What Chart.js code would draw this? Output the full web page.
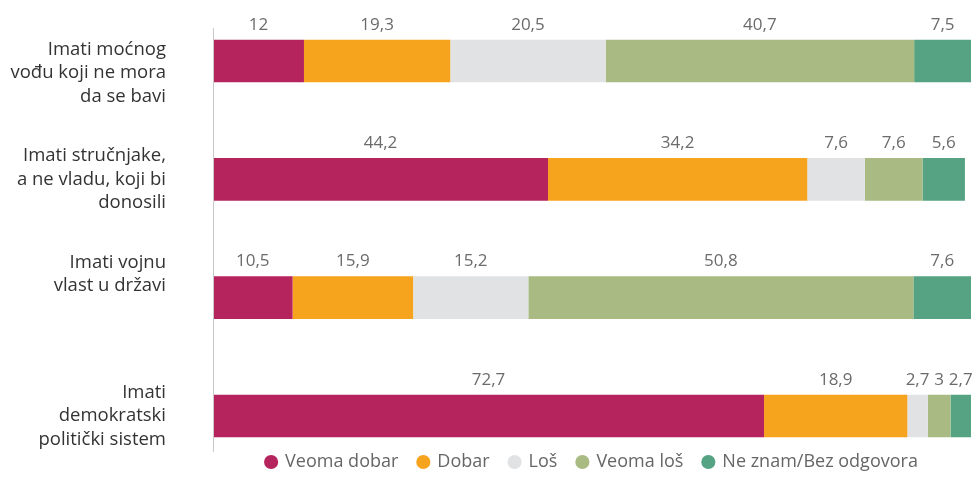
<!DOCTYPE html>
<html>
<head>
<meta charset="utf-8">
<script src="https://cdn.jsdelivr.net/npm/chart.js@4/dist/chart.umd.min.js"></script>
<style>
  html, body { margin: 0; padding: 0; background: #fff; }
  #wrap { width: 974px; height: 497px; }
</style>
</head>
<body>
<div id="wrap"><canvas id="chart"></canvas></div>
<script>
const categories = [
	['Imati moćnog', 'vođu koji ne mora', 'da se bavi'],
	['Imati stručnjake,', 'a ne vladu, koji bi', 'donosili'],
	['Imati vojnu', 'vlast u državi'],
	['Imati', 'demokratski', 'politički sistem']
];
const seriesNames = ['Veoma dobar', 'Dobar', 'Loš', 'Veoma loš', 'Ne znam/Bez odgovora'];
const veomaDobar = [12, 44.2, 10.5, 72.7];
const dobar = [19.3, 34.2, 15.9, 18.9];
const los = [20.5, 7.6, 15.2, 2.7];
const veomaLos = [40.7, 7.6, 50.8, 3];
const neZnam = [7.5, 5.6, 7.6, 2.7];
const colors = ['#B5245C', '#F6A41D', '#E1E2E4', '#A9BB82', '#55A382'];

const values = [veomaDobar, dobar, los, veomaLos, neZnam];

// nudge of each category label in text lines (+ down, - up)
const labelNudge = [1, 0, -2, 0];

// labels above each segment + the long vertical axis line
const segmentLabels = {
	id: 'segmentLabels',
	afterDatasetsDraw(chart) {
		const ctx = chart.ctx;
		const area = chart.chartArea;
		ctx.save();
		ctx.strokeStyle = '#c8c8c8';
		ctx.lineWidth = 1;
		ctx.beginPath();
		ctx.moveTo(area.left + 0.5, area.top - 33);
		ctx.lineTo(area.left + 0.5, area.bottom + 36);
		ctx.stroke();

		ctx.font = '17px "Open Sans"';
		ctx.fillStyle = '#6b6b6b';
		ctx.textAlign = 'center';
		ctx.textBaseline = 'alphabetic';
		chart.data.datasets.forEach((ds, i) => {
			chart.getDatasetMeta(i).data.forEach((bar, j) => {
				const cx = (bar.x + bar.base) / 2;
				const top = bar.y - bar.height / 2;
				ctx.fillText(String(ds.data[j]).replace('.', ','), cx, top - 10);
			});
		});
		ctx.restore();
	}
};

const chart = new Chart(document.getElementById('chart'), {
	type: 'bar',
	data: {
		labels: categories,
		datasets: seriesNames.map((name, i) => ({
			label: name,
			data: values[i],
			backgroundColor: colors[i],
			borderWidth: 0,
			categoryPercentage: 1,
			barPercentage: 0.36,
			clip: false
		}))
	},
	options: {
		indexAxis: 'y',
		responsive: true,
		maintainAspectRatio: false,
		animation: false,
		layout: {
			padding: { top: 61, right: 3, bottom: 16, left: 0 }
		},
		scales: {
			x: {
				stacked: true,
				min: 0,
				max: 100,
				grid: { display: false },
				border: { display: false },
				ticks: { display: false },
				afterFit: s => { s.height = 17; }
			},
			y: {
				stacked: true,
				offset: false,
				grid: { display: false, drawTicks: false },
				border: { display: false },
				ticks: {
					padding: 47,
					color: '#333',
					font: { family: 'Open Sans', size: 18.5, lineHeight: 1.27 },
					callback: function (value, index) {
						const lines = categories[index].slice();
						const n = labelNudge[index];
						const blanks = new Array(Math.abs(n)).fill('');
						return n > 0 ? blanks.concat(lines) : lines.concat(blanks);
					}
				},
				afterFit: s => {
					s.width = 213;
					s.paddingTop = 0;
					s.paddingBottom = 0;
				}
			}
		},
		plugins: {
			legend: {
				position: 'bottom',
				fullSize: false,
				labels: {
					usePointStyle: true,
					pointStyle: 'circle',
					boxWidth: 10,
					boxHeight: 10,
					padding: 20,
					color: '#666',
					font: { family: 'Open Sans', size: 18 }
				}
			},
			tooltip: { enabled: false }
		}
	},
	plugins: [segmentLabels]
});
</script>
</body>
</html>
